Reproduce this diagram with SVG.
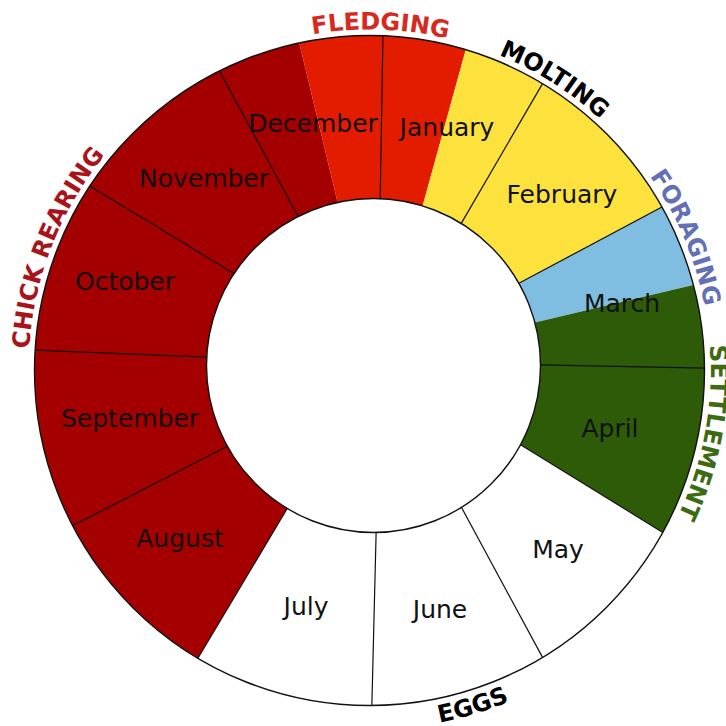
<svg xmlns="http://www.w3.org/2000/svg" width="726" height="726" viewBox="0 0 726 726">
  <style>
    .seg { stroke: none; }
    .div { stroke: #111; stroke-width: 1.2; fill: none; }
    .ring { stroke: #111; stroke-width: 1.4; fill: none; }
    .month { font-family: "DejaVu Sans", "Liberation Sans", sans-serif; font-size: 25px; fill: #111; text-anchor: middle; }
    .phase { font-family: "DejaVu Sans", "Liberation Sans", sans-serif; font-size: 24px; font-weight: bold; text-anchor: middle; }
  </style>
  <defs>
    <path id="cw" d="M 369.5,711.5 A 341 341 0 1 1 369.5,29.5 A 341 341 0 1 1 369.5,711.5"/>
    <path id="ccw" d="M 10.5,370.5 A 359 359 0 1 0 728.5,370.5 A 359 359 0 1 0 10.5,370.5"/>
  </defs>
  <rect width="726" height="726" fill="#fff"/>

  <g id="segments">
    <path id="chick-rearing-seg" class="seg" fill="#a40000" d="M 197.93,658.23 A 335 335 0 0 1 299.28,42.94 L 337.64,202.40 A 167 167 0 0 0 287.24,508.50 Z"/>
    <path id="fledging-seg" class="seg" fill="#e31c00" d="M 299.28,42.94 A 335 335 0 0 1 465.77,49.63 L 422.60,205.88 A 167 167 0 0 0 337.64,202.40 Z"/>
    <path id="molting-seg" class="seg" fill="#fde23d" d="M 465.77,49.63 A 335 335 0 0 1 661.93,207.07 L 518.85,283.27 A 167 167 0 0 0 422.60,205.88 Z"/>
    <path id="foraging-seg" class="seg" fill="#7fbee0" d="M 661.93,207.07 A 335 335 0 0 1 693.38,284.92 L 534.89,322.56 A 167 167 0 0 0 518.85,283.27 Z"/>
    <path id="settlement-seg" class="seg" fill="#2e5b07" d="M 693.38,284.92 A 335 335 0 0 1 662.78,532.40 L 520.54,444.67 A 167 167 0 0 0 534.89,322.56 Z"/>
    <path id="eggs-seg" class="seg" fill="#ffffff" d="M 662.78,532.40 A 335 335 0 0 1 197.93,658.23 L 287.24,508.50 A 167 167 0 0 0 520.54,444.67 Z"/>
  </g>

  <g id="connectors">
    <line class="div" x1="382.94" y1="35.77" x2="380.20" y2="198.63"/>
    <line class="div" x1="542.54" y1="83.65" x2="461.25" y2="223.41"/>
    <line class="div" x1="661.93" y1="207.07" x2="518.85" y2="283.27"/>
    <line class="div" x1="704.49" y1="368.16" x2="540.50" y2="364.92"/>
    <line class="div" x1="662.78" y1="532.40" x2="520.54" y2="444.67"/>
    <line class="div" x1="542.54" y1="657.35" x2="461.50" y2="507.43"/>
    <line class="div" x1="371.84" y1="705.49" x2="376.12" y2="532.48"/>
    <line class="div" x1="197.93" y1="658.23" x2="287.24" y2="508.50"/>
    <line class="div" x1="72.62" y1="525.71" x2="227.36" y2="446.34"/>
    <line class="div" x1="35.13" y1="350.05" x2="206.71" y2="357.05"/>
    <line class="div" x1="89.83" y1="186.09" x2="234.08" y2="273.57"/>
    <line class="div" x1="219.50" y1="70.96" x2="298.20" y2="216.44"/>
    <circle class="ring" cx="369.5" cy="370.5" r="335"/>
    <circle class="ring" cx="373.5" cy="365.5" r="167"/>
  </g>

  <g id="months">
    <g id="january"><text class="month" x="447" y="136">January</text></g>
    <g id="february"><text class="month" x="562" y="203">February</text></g>
    <g id="march"><text class="month" x="622" y="312">March</text></g>
    <g id="april"><text class="month" x="610" y="437">April</text></g>
    <g id="may"><text class="month" x="558" y="558">May</text></g>
    <g id="june"><text class="month" x="440" y="618">June</text></g>
    <g id="july"><text class="month" x="306" y="615">July</text></g>
    <g id="august"><text class="month" x="180" y="547">August</text></g>
    <g id="september"><text class="month" x="130" y="427">September</text></g>
    <g id="october"><text class="month" x="125" y="290">October</text></g>
    <g id="november"><text class="month" x="204" y="187">November</text></g>
    <g id="december"><text class="month" x="313" y="132">December</text></g>
  </g>

  <g id="phases">
    <g id="chick-rearing"><text class="phase" fill="#a8141a"><textPath href="#cw" startOffset="663">CHICK REARING</textPath></text></g>
    <g id="fledging"><text class="phase" fill="#d62a1e"><textPath href="#cw" startOffset="1082">FLEDGING</textPath></text></g>
    <g id="molting"><text class="phase" fill="#000"><textPath href="#cw" startOffset="1264">MOLTING</textPath></text></g>
    <g id="foraging"><text class="phase" fill="#6470b4"><textPath href="#cw" startOffset="1471">FORAGING</textPath></text></g>
    <g id="settlement"><text class="phase" fill="#3d6b12"><textPath href="#cw" startOffset="1669">SETTLEMENT</textPath></text></g>
    <g id="eggs"><text class="phase" fill="#000"><textPath href="#ccw" startOffset="671">EGGS</textPath></text></g>
  </g>
</svg>
